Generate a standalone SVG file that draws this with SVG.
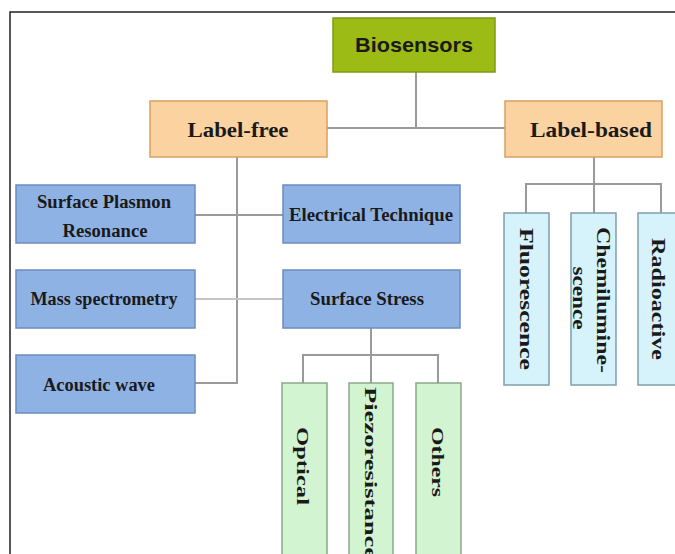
<svg xmlns="http://www.w3.org/2000/svg" width="675" height="554" viewBox="0 0 675 554">
<style>
.frame{fill:none;stroke:#222;stroke-width:1.5}
.con line{stroke:#9a9a9a;stroke-width:2}
.root{fill:#9cbb14;stroke:#7d9a10;stroke-width:1.5}
.lbl{fill:#fbd3a0;stroke:#d9a062;stroke-width:1.5}
.blue{fill:#8fb2e4;stroke:#6c8cc0;stroke-width:1.5}
.cyan{fill:#d6f3fb;stroke:#7f9ea8;stroke-width:1.5}
.green{fill:#d3f4d1;stroke:#8aa88a;stroke-width:1.5}
text{font-family:"Liberation Serif","Times New Roman",serif;font-weight:bold;fill:#1a1a1a}
.sans{font-family:"Liberation Sans",Arial,sans-serif}
.t22{font-size:22px}
.t18{font-size:18px}
.t17{font-size:17px}
</style>
<rect x="0" y="0" width="675" height="554" fill="#ffffff"/>
<rect class="frame" x="10" y="12" width="700" height="600"/>
<g class="con">
<line x1="416" y1="72" x2="416" y2="128"/>
<line x1="327" y1="128" x2="505" y2="128"/>
<line x1="237" y1="157" x2="237" y2="383"/>
<line x1="195" y1="383" x2="238" y2="383"/>
<line x1="195" y1="215" x2="283" y2="215"/>
<line x1="195" y1="299" x2="283" y2="299" style="stroke:#c4c4c4"/>
<line x1="371" y1="328" x2="371" y2="384"/>
<line x1="302" y1="355" x2="439" y2="355"/>
<line x1="303" y1="354" x2="303" y2="384"/>
<line x1="438" y1="354" x2="438" y2="384"/>
<line x1="594" y1="157" x2="594" y2="213"/>
<line x1="525" y1="184" x2="662" y2="184"/>
<line x1="526" y1="183" x2="526" y2="213"/>
<line x1="661" y1="183" x2="661" y2="213"/>
</g>
<g id="biosensors"><rect class="root" x="333" y="18" width="162" height="54"/><text class="sans" x="414" y="52" font-size="21" text-anchor="middle" textLength="118" lengthAdjust="spacingAndGlyphs">Biosensors</text></g>
<g id="label-free"><rect class="lbl" x="150" y="101" width="177" height="56"/><text class="t22" x="238" y="137" text-anchor="middle" textLength="101" lengthAdjust="spacingAndGlyphs">Label-free</text></g>
<g id="label-based"><rect class="lbl" x="505" y="101" width="157" height="56"/><text class="t22" x="591" y="137" text-anchor="middle" textLength="122" lengthAdjust="spacingAndGlyphs">Label-based</text></g>
<g id="spr"><rect class="blue" x="16" y="185" width="179" height="58"/><text class="t18" x="104" y="208" text-anchor="middle" textLength="134" lengthAdjust="spacingAndGlyphs">Surface Plasmon</text><text class="t18" x="105" y="237" text-anchor="middle" textLength="85" lengthAdjust="spacingAndGlyphs">Resonance</text></g>
<g id="electrical"><rect class="blue" x="283" y="185" width="177" height="58"/><text class="t18" x="371" y="221" text-anchor="middle" textLength="164" lengthAdjust="spacingAndGlyphs">Electrical Technique</text></g>
<g id="mass"><rect class="blue" x="16" y="270" width="179" height="58"/><text class="t18" x="104" y="305" text-anchor="middle" textLength="147" lengthAdjust="spacingAndGlyphs">Mass spectrometry</text></g>
<g id="stress"><rect class="blue" x="283" y="270" width="177" height="58"/><text class="t18" x="367" y="305" text-anchor="middle" textLength="114" lengthAdjust="spacingAndGlyphs">Surface Stress</text></g>
<g id="acoustic"><rect class="blue" x="16" y="355" width="179" height="58"/><text class="t18" x="99" y="391" text-anchor="middle" textLength="112" lengthAdjust="spacingAndGlyphs">Acoustic wave</text></g>
<g id="fluorescence"><rect class="cyan" x="504" y="213" width="45" height="172"/><text class="t18" transform="translate(526,299) rotate(90)" x="0" y="6" text-anchor="middle" textLength="142" lengthAdjust="spacingAndGlyphs">Fluorescence</text></g>
<g id="chemi"><rect class="cyan" x="571" y="213" width="45" height="172"/><text class="t18" transform="translate(603,300) rotate(90)" x="0" y="6" text-anchor="middle" textLength="146" lengthAdjust="spacingAndGlyphs">Chemilumine-</text><text class="t18" transform="translate(579,298) rotate(90)" x="0" y="6" text-anchor="middle" textLength="63" lengthAdjust="spacingAndGlyphs">scence</text></g>
<g id="radioactive"><rect class="cyan" x="638" y="213" width="45" height="172"/><text class="t18" transform="translate(658,299) rotate(90)" x="0" y="6" text-anchor="middle" textLength="122" lengthAdjust="spacingAndGlyphs">Radioactive</text></g>
<g id="optical"><rect class="green" x="282" y="383" width="45" height="190"/><text class="t17" transform="translate(303,466) rotate(90)" x="0" y="6" text-anchor="middle" textLength="78" lengthAdjust="spacingAndGlyphs">Optical</text></g>
<g id="piezo"><rect class="green" x="349" y="383" width="44" height="190"/><text class="t17" transform="translate(371,387) rotate(90)" x="0" y="6" text-anchor="start" textLength="172" lengthAdjust="spacingAndGlyphs">Piezoresistance</text></g>
<g id="others"><rect class="green" x="416" y="383" width="45" height="190"/><text class="t17" transform="translate(438,462) rotate(90)" x="0" y="6" text-anchor="middle" textLength="70" lengthAdjust="spacingAndGlyphs">Others</text></g>
</svg>
